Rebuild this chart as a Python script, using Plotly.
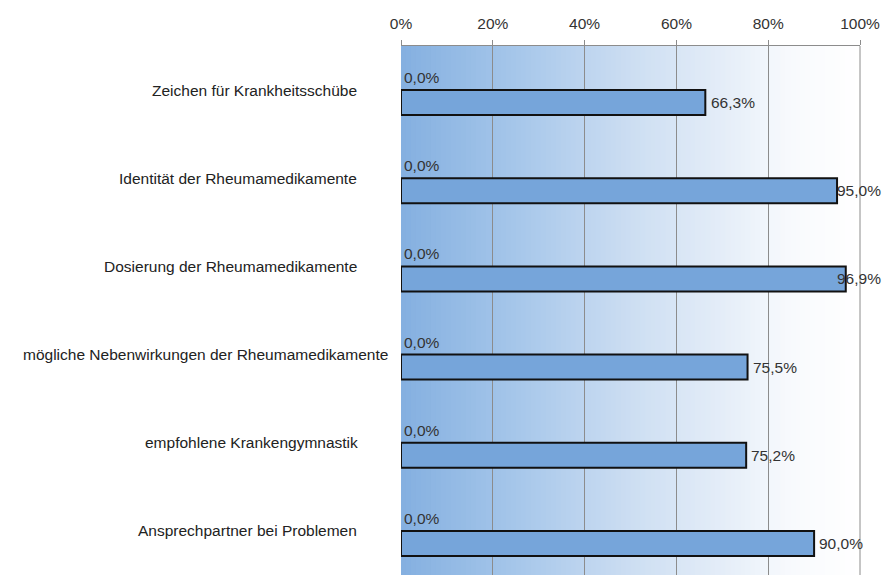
import plotly.graph_objects as go

# ---- data ----
categories = [
    "Zeichen für Krankheitsschübe",
    "Identität der Rheumamedikamente",
    "Dosierung der Rheumamedikamente",
    "mögliche Nebenwirkungen der Rheumamedikamente",
    "empfohlene Krankengymnastik",
    "Ansprechpartner bei Problemen",
]
series_zero = [0.0, 0.0, 0.0, 0.0, 0.0, 0.0]
series_main = [66.3, 95.0, 96.9, 75.5, 75.2, 90.0]
tick_values = [0, 20, 40, 60, 80, 100]
tick_labels = ["0%", "20%", "40%", "60%", "80%", "100%"]

# ---- style ----
W, H = 885, 586
L, R, T, B = 401, 25, 46, 11
label_right_px = [359, 359, 359, 390, 360, 359]
FONT = "Liberation Sans, Arial, sans-serif"
FS = 15.5
bar_color = "rgb(118,165,218)"
BARGAP = 0.433
label_cap = 94.6  # value labels are kept inside the chart area (like the original)


def fmt(v):
    return f"{v:.1f}%".replace(".", ",")


fig = go.Figure()
fig.add_trace(go.Bar(
    y=categories, x=series_zero, orientation="h",
    marker=dict(color=bar_color, line=dict(color="#111", width=0)),
    text=[fmt(v) for v in series_zero], textposition="outside",
    textfont=dict(size=FS, color="#333", family=FONT),
    cliponaxis=False, showlegend=False,
))
fig.add_trace(go.Bar(
    y=categories, x=series_main, orientation="h",
    marker=dict(color=bar_color, line=dict(color="#111", width=2)),
    showlegend=False,
))

# background gradient (plot area), as vertical strips in paper coords
stops = [(0.0, (132, 176, 224)), (0.25, (166, 198, 234)), (0.5, (204, 222, 242)),
         (0.7, (228, 237, 248)), (0.85, (248, 250, 253)), (1.0, (255, 255, 255))]


def grad(t):
    for (t0, c0), (t1, c1) in zip(stops[:-1], stops[1:]):
        if t <= t1:
            f = (t - t0) / (t1 - t0) if t1 > t0 else 0
            return tuple(round(a + (b - a) * f) for a, b in zip(c0, c1))
    return stops[-1][1]


shapes = []
N = 92
for i in range(N):
    c = grad((i + 0.5) / N)
    shapes.append(dict(type="rect", xref="paper", yref="paper",
                       x0=i / N, x1=(i + 1) / N + 0.002, y0=0, y1=1,
                       fillcolor=f"rgb{c}", line=dict(width=0), layer="below"))
shapes.append(dict(type="line", xref="paper", yref="paper", x0=1, x1=1, y0=0, y1=1,
                   line=dict(color="#8c8c8c", width=1), layer="below"))

plot_w = W - L - R
plot_h = H - T - B
bar_offset_px = plot_h / len(categories) * (1 - BARGAP) / 4

annotations = []
for cat, rp in zip(categories, label_right_px):
    annotations.append(dict(
        text=cat, xref="paper", yref="y", x=(rp - L) / plot_w, y=cat,
        xanchor="right", yanchor="middle", showarrow=False,
        font=dict(size=FS, color="#222", family=FONT),
    ))
for cat, v in zip(categories, series_main):
    annotations.append(dict(
        text=fmt(v), xref="x", yref="y", x=min(v + 0.7, label_cap), y=cat,
        xanchor="left", yanchor="middle", showarrow=False, yshift=-bar_offset_px,
        font=dict(size=FS, color="#333", family=FONT),
    ))

fig.update_layout(
    width=W, height=H,
    margin=dict(l=L, r=R, t=T, b=B, autoexpand=False),
    paper_bgcolor="white", plot_bgcolor="white",
    barmode="group", bargap=BARGAP, bargroupgap=0,
    shapes=shapes, annotations=annotations,
    font=dict(family=FONT, color="#333"),
    xaxis=dict(
        side="top", range=[0, 100], tickvals=tick_values, ticktext=tick_labels,
        showgrid=True, gridcolor="#8c8c8c", gridwidth=1,
        showline=True, linecolor="#8c8c8c", linewidth=1,
        ticks="outside", ticklen=5, tickcolor="#8c8c8c",
        tickfont=dict(size=FS, color="#333", family=FONT),
        ticklabelstandoff=5, zeroline=False, fixedrange=True, automargin=False,
    ),
    yaxis=dict(
        autorange="reversed", showticklabels=False, showgrid=False,
        zeroline=False, showline=False, ticks="", fixedrange=True, automargin=False,
    ),
)

fig.write_html("out.html")
